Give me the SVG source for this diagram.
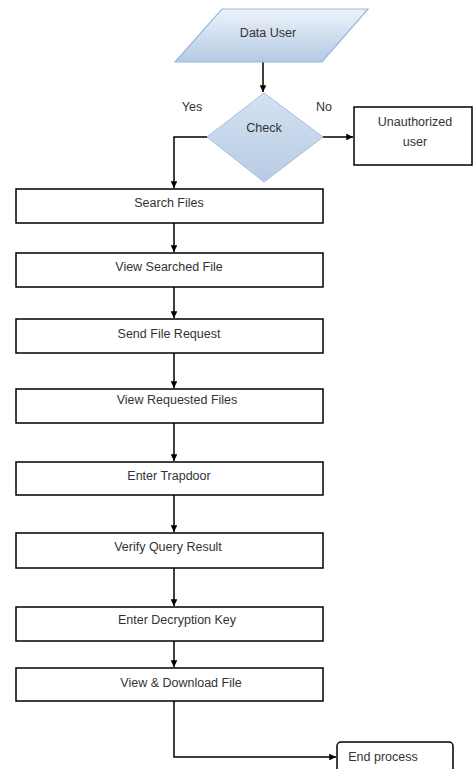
<svg xmlns="http://www.w3.org/2000/svg" width="474" height="769" viewBox="0 0 474 769">
<defs>
<linearGradient id="gBlue" x1="0" y1="0" x2="0" y2="1">
<stop offset="0" stop-color="#eef3fa"/>
<stop offset="1" stop-color="#b3c9e4"/>
</linearGradient>
<linearGradient id="gDia" x1="0" y1="0" x2="0" y2="1">
<stop offset="0" stop-color="#d5e2f1"/>
<stop offset="1" stop-color="#b7cce5"/>
</linearGradient>
<marker id="arr" viewBox="0 0 10 10" refX="10" refY="5" markerWidth="4.5" markerHeight="4.5" orient="auto">
<path d="M0,0 L10,5 L0,10 z" fill="#000"/>
</marker>
<style>
.box{fill:#fff;stroke:#000;stroke-width:1.5}
.t{font-family:"Liberation Sans",Arial,sans-serif;font-size:12.5px;fill:#333;text-anchor:middle;dominant-baseline:central}
.c{fill:none;stroke:#000;stroke-width:1.5;marker-end:url(#arr)}
</style>
</defs>
<rect width="474" height="769" fill="#fff"/>
<g id="connectors">
<path class="c" d="M263,62 V92"/>
<path class="c" d="M323,137 H353"/>
<path class="c" d="M207,137 H174 V188"/>
<path class="c" d="M174,223 V252"/>
<path class="c" d="M174,287 V318"/>
<path class="c" d="M174,353 V388"/>
<path class="c" d="M174,423 V461"/>
<path class="c" d="M174,495 V532"/>
<path class="c" d="M174,568 V606"/>
<path class="c" d="M174,641 V667"/>
<path class="c" d="M174,701 V757 H336"/>
</g>
<g id="data-user">
<polygon points="222,9 368,9 322,62 175,62" fill="url(#gBlue)" stroke="#9bb7da" stroke-width="1.2"/>
<text class="t" x="268" y="33">Data User</text>
</g>
<g id="check">
<polygon points="264,93 323,137 264,182 207,137" fill="url(#gDia)" stroke="#a6bfdd" stroke-width="1"/>
<text class="t" x="264" y="128">Check</text>
</g>
<g id="labels">
<text class="t" x="192" y="107">Yes</text>
<text class="t" x="324" y="107">No</text>
</g>
<g id="unauthorized">
<rect class="box" x="354" y="107" width="118" height="58"/>
<text class="t" x="415" y="122">Unauthorized</text>
<text class="t" x="415" y="142">user</text>
</g>
<g id="search-files">
<rect class="box" x="16" y="189" width="307" height="34"/>
<text class="t" x="169" y="203">Search Files</text>
</g>
<g id="view-searched-file">
<rect class="box" x="16" y="253" width="307" height="34"/>
<text class="t" x="169" y="267">View Searched File</text>
</g>
<g id="send-file-request">
<rect class="box" x="16" y="319" width="307" height="34"/>
<text class="t" x="169" y="334">Send File Request</text>
</g>
<g id="view-requested-files">
<rect class="box" x="16" y="389" width="307" height="34"/>
<text class="t" x="177" y="400">View Requested Files</text>
</g>
<g id="enter-trapdoor">
<rect class="box" x="16" y="462" width="307" height="33"/>
<text class="t" x="169" y="476">Enter Trapdoor</text>
</g>
<g id="verify-query-result">
<rect class="box" x="16" y="533" width="307" height="35"/>
<text class="t" x="168" y="547">Verify Query Result</text>
</g>
<g id="enter-decryption-key">
<rect class="box" x="16" y="607" width="307" height="34"/>
<text class="t" x="177" y="620">Enter Decryption Key</text>
</g>
<g id="view-download-file">
<rect class="box" x="16" y="668" width="307" height="33"/>
<text class="t" x="181" y="683">View &amp; Download File</text>
</g>
<g id="end-process">
<rect class="box" x="337" y="742" width="116" height="40" rx="4"/>
<text class="t" x="383" y="757">End process</text>
</g>
</svg>
